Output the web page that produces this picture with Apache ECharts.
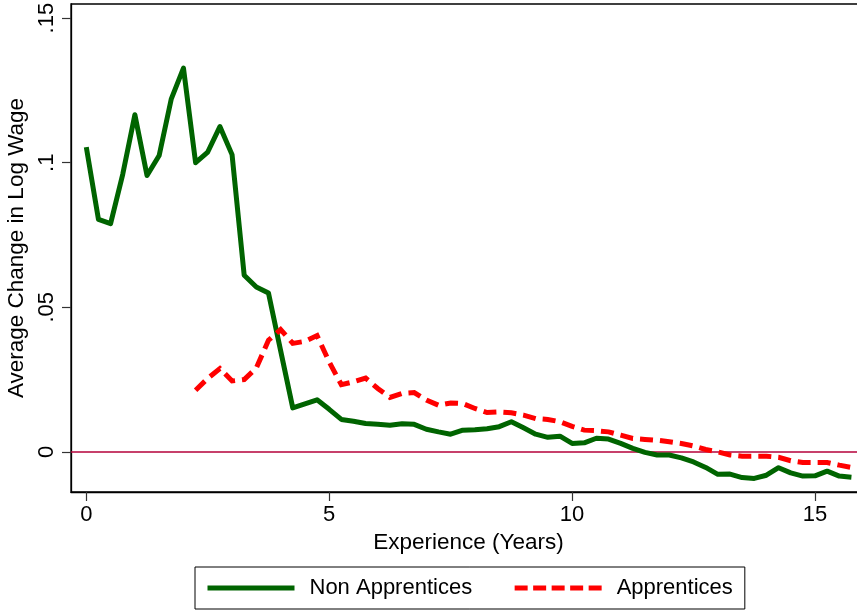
<!DOCTYPE html>
<html>
<head>
<meta charset="utf-8">
<script src="https://cdn.jsdelivr.net/npm/echarts@6/dist/echarts.min.js"></script>
<style>
html,body{margin:0;padding:0;background:#fff;}
#chart{width:857px;height:612px;}
</style>
</head>
<body>
<div id="chart"></div>
<script>
// Experience (years), quarterly
const experience = [
  0, 0.25, 0.5, 0.75, 1, 1.25, 1.5, 1.75, 2, 2.25, 2.5, 2.75, 3, 3.25, 3.5, 3.75,
  4, 4.25, 4.5, 4.75, 5, 5.25, 5.5, 5.75, 6, 6.25, 6.5, 6.75, 7, 7.25, 7.5, 7.75,
  8, 8.25, 8.5, 8.75, 9, 9.25, 9.5, 9.75, 10, 10.25, 10.5, 10.75, 11, 11.25, 11.5, 11.75,
  12, 12.25, 12.5, 12.75, 13, 13.25, 13.5, 13.75, 14, 14.25, 14.5, 14.75, 15, 15.25, 15.5, 15.75
];
const nonApprentices = [
  0.1054, 0.0804, 0.0789, 0.0960, 0.1166, 0.0956, 0.1025, 0.1221, 0.1327, 0.1000, 0.1037, 0.1125, 0.1028, 0.0611, 0.0570, 0.0549,
  0.0350, 0.0152, 0.0166, 0.0180, 0.0147, 0.0112, 0.0106, 0.0098, 0.0095, 0.0092, 0.0097, 0.0095, 0.0078, 0.0069, 0.0061, 0.0075,
  0.0076, 0.0080, 0.0087, 0.0104, 0.0083, 0.0061, 0.0050, 0.0054, 0.0029, 0.0031, 0.0047, 0.0044, 0.0029, 0.0012, -0.0002, -0.0011,
  -0.0011, -0.0021, -0.0035, -0.0054, -0.0078, -0.0077, -0.0089, -0.0092, -0.0081, -0.0055, -0.0073, -0.0084, -0.0083, -0.0067, -0.0084, -0.0088
];
const apprentices = [
  null, null, null, null, null, null, null, null, null, 0.0213, 0.0254, 0.0288, 0.0245, 0.0250, 0.0290, 0.0386,
  0.0423, 0.0375, 0.0382, 0.0402, 0.0311, 0.0232, 0.0242, 0.0255, 0.0219, 0.0188, 0.0202, 0.0205, 0.0179, 0.0161, 0.0169, 0.0167,
  0.0150, 0.0136, 0.0138, 0.0135, 0.0127, 0.0115, 0.0112, 0.0104, 0.0088, 0.0075, 0.0073, 0.0069, 0.0058, 0.0046, 0.0043, 0.0040,
  0.0035, 0.0029, 0.0020, 0.0008, 0.0000, -0.0011, -0.0015, -0.0015, -0.0015, -0.0019, -0.0031, -0.0037, -0.0037, -0.0037, -0.0046, -0.0054
];
const xTicks = [0, 5, 10, 15];
const yTicks = [0, 0.05, 0.1, 0.15];
const seriesNames = ['Non Apprentices', 'Apprentices'];

const FONT = '"Liberation Sans", Arial, Helvetica, sans-serif';
const pairs = vals => experience.map((x, i) => [x, vals[i]]).filter(p => p[1] !== null);

const chart = echarts.init(document.getElementById('chart'), null, {renderer: 'canvas'});
chart.setOption({
  animation: false,
  backgroundColor: '#ffffff',
  textStyle: {fontFamily: FONT},
  grid: {
    left: 71, top: 4, right: -9, bottom: 120,
    show: true, borderColor: '#000', borderWidth: 1.3,
    containLabel: false, outerBoundsMode: 'none'
  },
  xAxis: {
    type: 'value', min: -0.315, max: 16.05,
    name: 'Experience (Years)', nameLocation: 'middle', nameGap: 36,
    nameTextStyle: {fontSize: 22.5, color: '#000', fontFamily: FONT},
    axisLine: {show: true, onZero: false, lineStyle: {color: '#000', width: 1.3}},
    axisTick: {show: true, length: 9, customValues: xTicks, lineStyle: {color: '#333', width: 1.2}},
    axisLabel: {show: true, customValues: xTicks, margin: 12, fontSize: 22, color: '#000', fontFamily: FONT},
    splitLine: {show: false}
  },
  yAxis: {
    type: 'value', min: -0.0139, max: 0.1549,
    name: 'Average Change in Log Wage', nameLocation: 'middle', nameGap: 34,
    nameTextStyle: {fontSize: 22.5, color: '#000', fontFamily: FONT},
    axisLine: {show: true, onZero: false, lineStyle: {color: '#000', width: 1.3}},
    axisTick: {show: true, length: 9, customValues: yTicks, lineStyle: {color: '#333', width: 1.2}},
    axisLabel: {
      show: true, customValues: yTicks, rotate: 90, margin: 13, fontSize: 22, color: '#000', fontFamily: FONT,
      formatter: v => v === 0 ? '0' : String(+v.toFixed(4)).replace(/^0/, '')
    },
    splitLine: {show: false}
  },
  legend: {
    data: [
      {name: seriesNames[0], lineStyle: {width: 5, type: 'solid', color: '#006400', cap: 'butt'}},
      {name: seriesNames[1], lineStyle: {width: 5, type: [13, 5.5], color: '#ff0000', cap: 'butt'}}
    ],
    left: 195, top: 567,
    orient: 'horizontal',
    padding: [10, 12, 10, 10],
    itemGap: 40,
    itemWidth: 87, itemHeight: 14,
    borderColor: '#000', borderWidth: 1,
    itemStyle: {color: 'rgba(0,0,0,0)', borderColor: 'rgba(0,0,0,0)', borderWidth: 0},
    textStyle: {fontSize: 22, color: '#000', fontFamily: FONT, padding: [0, 0, 0, 10]}
  },
  series: [
    {
      name: seriesNames[0], type: 'line', data: pairs(nonApprentices),
      symbol: 'none', showSymbol: false, connectNulls: false, z: 3,
      lineStyle: {color: '#006400', width: 5, join: 'round'},
      itemStyle: {color: '#006400'},
      markLine: {
        silent: true, symbol: ['none', 'none'], label: {show: false}, z: 1,
        lineStyle: {color: '#b4003a', width: 1.6, type: 'solid'},
        data: [{yAxis: 0}]
      }
    },
    {
      name: seriesNames[1], type: 'line', data: pairs(apprentices),
      symbol: 'none', showSymbol: false, z: 4,
      lineStyle: {color: '#ff0000', width: 5, type: [13, 7], cap: 'butt', join: 'miter'},
      itemStyle: {color: '#ff0000'}
    }
  ]
});
</script>
</body>
</html>
